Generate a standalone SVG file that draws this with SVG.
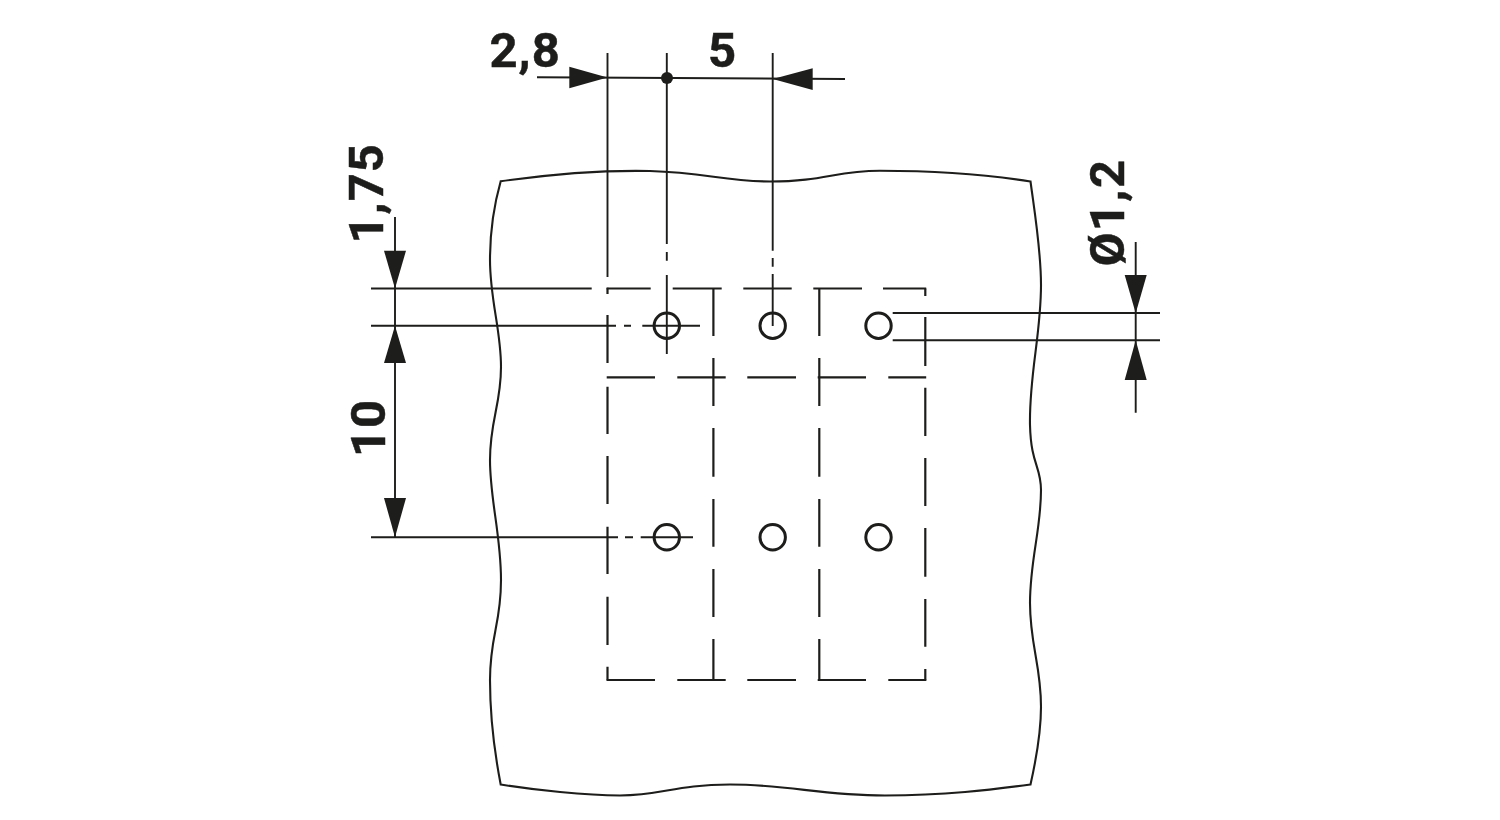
<svg xmlns="http://www.w3.org/2000/svg" width="1500" height="820" viewBox="0 0 1500 820">
  <style>
    .outline { fill: none; stroke: #1d1d1b; stroke-width: 2.1; stroke-linejoin: miter; }
    .thin { fill: none; stroke: #1d1d1b; stroke-width: 1.9; }
    .dash { fill: none; stroke: #1d1d1b; stroke-width: 2.2; }
    .hole { fill: none; stroke: #1d1d1b; stroke-width: 3; }
    .arrow, .dot { fill: #1d1d1b; stroke: none; }
    .dim { font-family: Roboto, "Liberation Sans", Arial, sans-serif; font-weight: 700; font-size: 49px; fill: #1d1d1b; stroke: #1d1d1b; stroke-width: 0.5; }
  </style>
  <rect width="1500" height="820" fill="#ffffff"/>
  <path id="board" class="outline" d="M500.7,181.3 C494,205 490,235 490,260 C490,300 501,330 501,366.7 C501,405 490,420 490,460 C490,500 501,535 501,580 C501,625 490,635 490,680 C490,715 495,755 500.7,784.5 C535,790 585,795.5 620,795.5 C662,795.5 675,784.5 730,784.5 C790,784.5 820,795.5 885,795.5 C945,795.5 990,790 1030.5,784.5 C1036,760 1041,735 1041,706.7 C1041,665 1030,645 1030,603 C1030,560 1041,530 1041,490 C1041,466 1031,465 1030,425 C1029,375 1041,335 1041,285 C1041,250 1035,215 1030.5,181.5 C990,175 945,170.7 880,170.7 C835,170.7 825,181.5 770,181.5 C725,181.5 705,172.5 650,171 C600,170 545,175 500.7,181.3 Z"/>
  <g id="outline-dashes">
    <path class="dash" d="M607.5,287.7V294 M607.5,315V363 M607.5,386.7V434 M607.5,456V504 M607.5,526.7V574 M607.5,596.7V645 M607.5,666.7V680.5"/>
    <path class="dash" d="M713.4,288.5V336 M713.4,358V406 M713.4,428V476.7 M713.4,499V546.7 M713.4,569V617 M713.4,639V680"/>
    <path class="dash" d="M819.3,288.5V336 M819.3,358V406 M819.3,428V476.7 M819.3,499V546.7 M819.3,569V617 M819.3,639V680"/>
    <path class="dash" d="M925.3,288.5V296 M925.3,317V366 M925.3,387.7V436 M925.3,458V506 M925.3,528V576.7 M925.3,599V646.7 M925.3,669V680.5"/>
    <path class="dash" d="M606.7,288.5H650.7 M672.7,288.5H721.7 M743.3,288.5H791.7 M813.3,288.5H862 M883,288.5H926.2"/>
    <path class="dash" d="M606.7,377.3H655 M677.3,377.3H725.7 M747.3,377.3H796 M817.7,377.3H866 M888.3,377.3H926.2"/>
    <path class="dash" d="M606.7,680H655 M677.3,680H725.7 M747.3,680H796 M817.7,680H866 M888.3,680H926.2"/>
  </g>
  <g id="holes">
    <circle id="hole-1" class="hole" cx="666.8" cy="325.7" r="12.7"/>
    <circle id="hole-2" class="hole" cx="772.7" cy="325.7" r="12.7"/>
    <circle id="hole-3" class="hole" cx="878.5" cy="325.7" r="12.7"/>
    <circle id="hole-4" class="hole" cx="666.8" cy="537.3" r="12.7"/>
    <circle id="hole-5" class="hole" cx="772.7" cy="537.3" r="12.7"/>
    <circle id="hole-6" class="hole" cx="878.5" cy="537.3" r="12.7"/>
  </g>
  <g id="connectors">
    <path class="thin" d="M607.5,53V277 M666.8,53V244 M666.8,252V260.7 M666.8,275V354 M772.7,53V250.7 M772.7,258V266.7 M772.7,274V326"/>
    <path class="thin" d="M537,77.3L845,79"/>
    <path class="thin" d="M371,288.5H591.7 M371,325.7H616 M624,325.7H631 M642.3,325.7H700 M371,537.3H618 M625,537.3H633 M640.7,537.3H693"/>
    <path class="thin" d="M395,217V537"/>
    <path class="thin" d="M892.7,313H1160 M892.7,340.3H1160 M1135.7,242V412.7"/>
    <polygon class="arrow" points="607.5,77.5 569.3,66.7 569.3,88.3"/>
    <polygon class="arrow" points="772.7,79 812.7,68.3 812.7,90"/>
    <circle class="dot" cx="667" cy="78" r="6"/>
    <polygon class="arrow" points="395,288.5 384,250.7 406,250.7"/>
    <polygon class="arrow" points="395,325.7 384,363 406,363"/>
    <polygon class="arrow" points="395,537.3 384,498 406,498"/>
    <polygon class="arrow" points="1135.7,313.3 1124.7,275 1146.7,275"/>
    <polygon class="arrow" points="1135.7,340.3 1124.7,380 1146.7,380"/>
  </g>
  <g id="labels">
    <text class="dim" x="489.5" y="67" letter-spacing="1">2,8</text>
    <text class="dim" x="722" y="67" text-anchor="middle">5</text>
    <text class="dim" transform="translate(383,243.5) rotate(-90)" letter-spacing="1">1,75</text>
    <text class="dim" transform="translate(384.5,457) rotate(-90)" letter-spacing="1">10</text>
    <text class="dim" transform="translate(1123.7,266.5) rotate(-90)" letter-spacing="1.5">Ø1,2</text>
  </g>
</svg>
